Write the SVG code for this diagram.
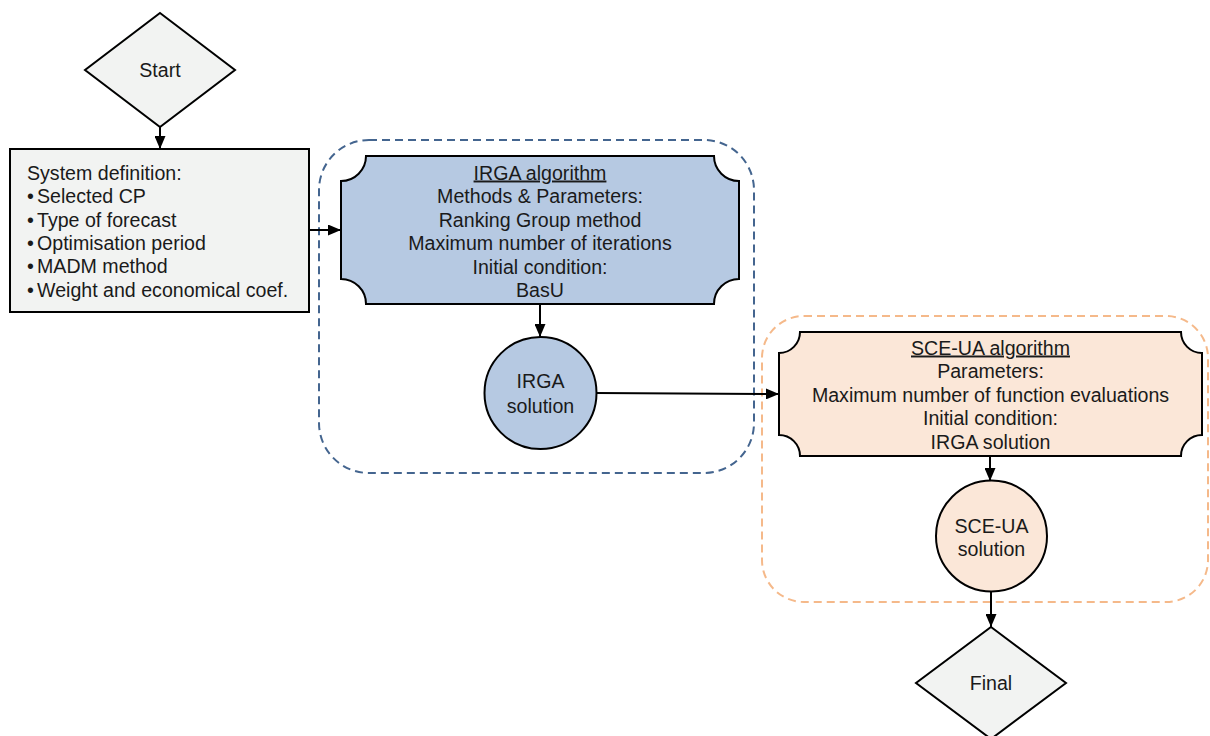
<svg xmlns="http://www.w3.org/2000/svg" width="1210" height="736" viewBox="0 0 1210 736">
  <style>
    text { font-family: "Liberation Sans", Arial, sans-serif; font-size: 19.6px; fill: #1a1a1a; }
    .mid { text-anchor: middle; }
    .shape { stroke: #000; stroke-width: 2; }
    .grey { fill: #f2f3f2; }
    .blue { fill: #b6c9e2; }
    .peach { fill: #fbe7d8; }
    .conn { stroke: #000; stroke-width: 2; fill: none; marker-end: url(#arrow); }
    .group-blue { fill: none; stroke: #44658f; stroke-width: 2; stroke-dasharray: 8 5; }
    .group-orange { fill: none; stroke: #f5b98a; stroke-width: 2; stroke-dasharray: 8 5; }
  </style>
  <defs>
    <marker id="arrow" viewBox="0 0 13 11" refX="13" refY="5.5" markerWidth="13" markerHeight="11" markerUnits="userSpaceOnUse" orient="auto">
      <path d="M0,0 L13,5.5 L0,11 Z" fill="#000"/>
    </marker>
  </defs>

  <rect width="1210" height="736" fill="#fff"/>

  <!-- dashed groupings -->
  <g id="groups">
    <rect id="irga-group" class="group-blue" x="319" y="140" width="435" height="333" rx="50" ry="50"/>
    <rect id="sceua-group" class="group-orange" x="762" y="316" width="446" height="286" rx="42" ry="42"/>
  </g>

  <!-- connectors -->
  <g id="connectors">
    <line class="conn" x1="160" y1="127" x2="160" y2="149"/>
    <line class="conn" x1="309" y1="230" x2="341" y2="230"/>
    <line class="conn" x1="540" y1="304" x2="540" y2="337"/>
    <line class="conn" x1="596" y1="393" x2="779" y2="394"/>
    <line class="conn" x1="990" y1="456" x2="990" y2="481"/>
    <line class="conn" x1="991" y1="591" x2="991" y2="627"/>
  </g>

  <g id="start">
    <polygon class="shape grey" points="160,13 235,70 160,127 85,70"/>
    <text class="mid" x="160" y="77.3">Start</text>
  </g>

  <g id="system-definition">
    <rect class="shape grey" x="10" y="149" width="299" height="163"/>
    <text x="27" y="180">System definition:</text>
    <text x="27" y="203.3">•</text><text x="37" y="203.3">Selected CP</text>
    <text x="27" y="226.7">•</text><text x="37" y="226.7">Type of forecast</text>
    <text x="27" y="250">•</text><text x="37" y="250">Optimisation period</text>
    <text x="27" y="273.3">•</text><text x="37" y="273.3">MADM method</text>
    <text x="27" y="296.7">•</text><text x="37" y="296.7">Weight and economical coef.</text>
  </g>

  <g id="irga-algorithm">
    <path class="shape blue" d="M366,156 H714 A25,25 0 0 0 739,181 V279 A25,25 0 0 0 714,304 H366 A25,25 0 0 0 341,279 V181 A25,25 0 0 0 366,156 Z"/>
    <text class="mid" x="540" y="179.5" text-decoration="underline">IRGA algorithm</text>
    <text class="mid" x="540" y="203">Methods &amp; Parameters:</text>
    <text class="mid" x="540" y="226.5">Ranking Group method</text>
    <text class="mid" x="540" y="250">Maximum number of iterations</text>
    <text class="mid" x="540" y="273.5">Initial condition:</text>
    <text class="mid" x="540" y="297">BasU</text>
  </g>

  <g id="irga-solution">
    <circle class="shape blue" cx="540.5" cy="393" r="56"/>
    <text class="mid" x="540.5" y="388.3">IRGA</text>
    <text class="mid" x="540.5" y="412.5">solution</text>
  </g>

  <g id="sceua-algorithm">
    <path class="shape peach" d="M800,332 H1181 A21,21 0 0 0 1202,353 V435 A21,21 0 0 0 1181,456 H800 A21,21 0 0 0 779,435 V353 A21,21 0 0 0 800,332 Z"/>
    <text class="mid" x="990.5" y="354.5" text-decoration="underline">SCE-UA algorithm</text>
    <text class="mid" x="990.5" y="378">Parameters:</text>
    <text class="mid" x="990.5" y="401.5">Maximum number of function evaluations</text>
    <text class="mid" x="990.5" y="425">Initial condition:</text>
    <text class="mid" x="990.5" y="448.5">IRGA solution</text>
  </g>

  <g id="sceua-solution">
    <circle class="shape peach" cx="991.5" cy="536" r="55.5"/>
    <text class="mid" x="991.5" y="532.5">SCE-UA</text>
    <text class="mid" x="991.5" y="556">solution</text>
  </g>

  <g id="final">
    <polygon class="shape grey" points="991,627 1066,683 991,739 916,683"/>
    <text class="mid" x="991" y="690">Final</text>
  </g>
</svg>
